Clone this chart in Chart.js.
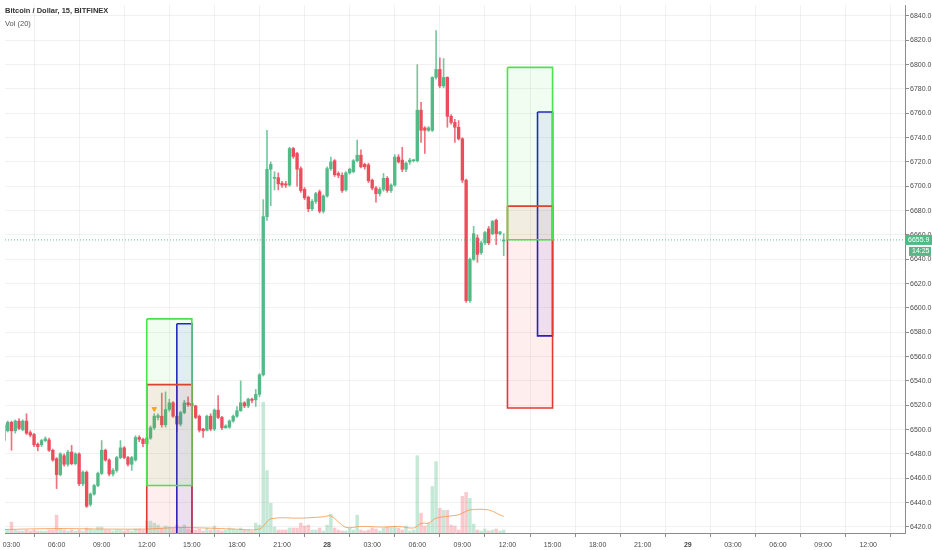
<!DOCTYPE html>
<html>
<head>
<meta charset="utf-8">
<script src="https://cdn.jsdelivr.net/npm/chart.js@4.4.1/dist/chart.umd.min.js"></script>
<style>
  html, body { margin: 0; padding: 0; background: #fff; }
  #wrap { position: relative; width: 932px; height: 550px; }
  .legend { position: absolute; left: 5px; font-family: "Liberation Sans", Arial, sans-serif; font-size: 7.5px; color: #333; white-space: nowrap; }
</style>
</head>
<body>
<div id="wrap">
  <canvas id="myChart" width="932" height="550"></canvas>
  <div class="legend" style="top:6px;font-weight:bold">Bitcoin / Dollar, 15, BITFINEX</div>
  <div class="legend" style="top:19px;color:#555">Vol (20)</div>
</div>
<script>
// 15 minute bars, index = quarter hours since 27th 00:00
var firstBar = 10;

var opens = [
  6491, 6499, 6506, 6499, 6507, 6500, 6507, 6497.5, 6496, 6488,
  6487.5, 6491, 6491.5, 6483, 6476, 6463, 6478.5, 6471.5, 6481.5, 6472,
  6480, 6455.5, 6465, 6438.5, 6447, 6454, 6464, 6483, 6475, 6463.5,
  6466.5, 6477, 6485, 6477, 6471.5, 6475, 6493.5, 6492, 6488.5, 6493,
  6501.5, 6510, 6511, 6504, 6516.5, 6522, 6511, 6504.5, 6514, 6522,
  6521.5, 6519.5, 6511, 6500.5, 6499.5, 6511, 6500.5, 6516, 6510, 6501.5,
  6502, 6507, 6511, 6515.5, 6522, 6519.5, 6525, 6524.5, 6529, 6545,
  6675, 6714, 6706.5, 6707, 6702.5, 6702, 6701, 6731, 6727, 6714.5,
  6697.5, 6691, 6681.5, 6687.5, 6695.5, 6679.5, 6692, 6714.5, 6721, 6710.5,
  6709, 6697, 6711, 6712, 6721, 6725.5, 6718, 6717.5, 6705, 6698.5,
  6694, 6697.5, 6706.5, 6696.5, 6701, 6724, 6721.5, 6714, 6720, 6721,
  6721, 6762.5, 6748, 6746, 6746, 6789.5, 6796, 6782.5, 6789.5, 6757.5,
  6752.5, 6748.5, 6739, 6705, 6606, 6640, 6657.5, 6645.5, 6653.5, 6665,
  6661, 6672, 6661, 6655
];
var highs = [
  6505, 6507, 6507, 6508, 6509, 6508, 6513, 6499, 6497, 6489,
  6492, 6494, 6493, 6484, 6477, 6481, 6480, 6483, 6487, 6481,
  6481, 6466, 6466, 6448, 6455, 6465, 6491, 6484, 6476, 6468,
  6478, 6491, 6486, 6478, 6478, 6495, 6495, 6493, 6494, 6503,
  6513, 6513, 6530, 6531, 6525, 6523, 6537, 6515, 6524, 6527,
  6523, 6520, 6512, 6501, 6512, 6513, 6517, 6528, 6511, 6504,
  6508, 6512, 6519, 6540, 6523, 6526, 6526, 6533, 6546, 6689,
  6746, 6720, 6712, 6711, 6704, 6704, 6732, 6732, 6728, 6716,
  6699, 6692, 6689, 6695, 6697, 6693, 6716, 6724, 6722, 6712,
  6711, 6712, 6715, 6722, 6738, 6730, 6719, 6719, 6706, 6700,
  6699, 6710.5, 6708, 6702, 6726, 6726, 6732, 6720, 6723, 6722,
  6800, 6769, 6749, 6749, 6790, 6828, 6805.5, 6805, 6790, 6759,
  6755, 6754, 6740, 6706, 6641, 6667, 6660, 6655, 6663, 6667,
  6672, 6673, 6663, 6661
];
var lows = [
  6489, 6498, 6483, 6497, 6500, 6499, 6496, 6494, 6486, 6482.5,
  6486, 6490, 6482, 6474, 6451.5, 6462, 6470, 6470, 6471, 6471,
  6454, 6454, 6436, 6437, 6446, 6453, 6463, 6474, 6462, 6462,
  6465, 6476, 6476, 6470, 6466.5, 6474, 6490, 6486, 6487, 6492,
  6500, 6508, 6502, 6502, 6515, 6510, 6498, 6503, 6513, 6519,
  6518, 6509, 6498, 6493.5, 6499, 6499, 6499, 6509, 6500, 6501,
  6501, 6506, 6510, 6515, 6518, 6518, 6522, 6519, 6527, 6544,
  6672, 6684, 6697, 6697, 6699, 6699, 6700, 6723, 6700, 6695,
  6689, 6679, 6680, 6686, 6678, 6678, 6691, 6713, 6708, 6707,
  6695, 6696, 6710, 6711, 6720, 6715, 6714, 6703, 6697, 6687,
  6692, 6696, 6695, 6695, 6700, 6719, 6712, 6712, 6718, 6720,
  6720, 6736, 6727, 6745, 6745, 6788, 6781, 6781, 6748.5, 6751,
  6736, 6738, 6703, 6604.5, 6604.5, 6639, 6637.5, 6644, 6652, 6652,
  6660, 6652, 6660, 6643
];
var closes = [
  6504, 6506, 6499, 6507, 6501, 6507, 6497, 6495.5, 6487.5, 6486,
  6491, 6492.5, 6483, 6475, 6463, 6480, 6471.5, 6481.5, 6472, 6480,
  6455.5, 6465, 6437, 6447, 6454, 6464, 6483, 6475, 6463.5, 6466.5,
  6477, 6485, 6477, 6471.5, 6477, 6493.5, 6492, 6488.5, 6493, 6501.5,
  6511, 6511.5, 6504, 6516.5, 6522, 6511, 6504.5, 6514, 6522, 6520.5,
  6519.5, 6510, 6499.5, 6499, 6511, 6500.5, 6516, 6510, 6501.5, 6503,
  6507, 6511, 6515.5, 6522, 6519.5, 6525, 6524, 6529, 6545, 6675,
  6714, 6718, 6707, 6702, 6701, 6701, 6731, 6724.5, 6714, 6696.5,
  6690.5, 6681.5, 6687.5, 6694, 6679.5, 6692, 6714.5, 6720, 6709.5, 6709,
  6696.5, 6711, 6714, 6721, 6725.5, 6716, 6716, 6704.5, 6698.5, 6694,
  6697.5, 6706.5, 6696.5, 6701, 6724, 6720, 6714, 6719, 6721.5, 6721.8,
  6762.5, 6746, 6746, 6748, 6789.5, 6796, 6782.5, 6789.5, 6757.5, 6752.5,
  6748.5, 6739, 6705, 6606, 6640, 6661, 6644, 6653.5, 6662, 6653.5,
  6671, 6661, 6662.5, 6655.9
];
var volumes = [
  4, 3, 11, 3, 2, 2, 3, 2, 3, 2,
  2, 2, 3, 3, 18, 4, 3, 2, 3, 2,
  3, 2, 5, 4, 3, 6, 6, 3, 3, 2,
  3, 3, 2, 3, 2, 4, 4, 3, 12, 12,
  10, 8, 5, 7, 6, 5, 8, 5, 8, 4,
  3, 3, 4, 2, 5, 3, 7, 3, 2, 3,
  5, 4, 3, 5, 3, 3, 2, 10, 8, 132,
  63, 30, 6, 3, 3, 3, 5, 5, 5, 10,
  7, 8, 3, 3, 5, 2, 8, 19, 5, 3,
  2, 2, 5, 3, 18, 3, 2, 3, 5, 4,
  2, 5, 6, 6, 7, 5, 3, 7, 2, 3,
  78, 20, 7, 10, 47, 72, 25, 23, 23, 8,
  7, 3, 37, 41, 35, 9, 3, 2, 4, 2,
  3, 4, 2, 3
];

// volume moving average
var maBars = [10, 24, 36, 48, 56, 64, 71, 78, 81, 89, 95, 97, 101, 105, 111, 115, 119, 121, 123, 125, 129, 131, 134, 139, 142, 143];
var maValues = [3.5, 4.5, 4, 4, 5.5, 5, 4, 4, 14.3, 15, 16.3, 17.3, 5.7, 6.7, 6, 6.7, 5, 9.7, 10, 15, 17.3, 18.3, 23.3, 23.3, 18.3, 16.7];

// boxes: [start bar, end bar, top price, bottom price]
var leftGreen = [48, 60, 6591, 6454];
var leftRed = [48, 60, 6537, 6405];
var leftBlue = [56, 60, 6587, 6405];
var rightGreen = [144, 156, 6797.7, 6656];
var rightRed = [144, 156, 6683.7, 6517.7];
var rightBlue = [152, 156, 6761, 6577];

var markerBar = 50;
var markerPrice = 6517;

var lastPrice = 6655.9;
var countdown = '14:25';

var xTicks = [12, 24, 36, 48, 60, 72, 84, 96, 108, 120, 132, 144, 156, 168, 180, 192, 204, 216, 228, 240];
var xLabels = ['03:00', '06:00', '09:00', '12:00', '15:00', '18:00', '21:00', '28', '03:00', '06:00',
               '09:00', '12:00', '15:00', '18:00', '21:00', '29', '03:00', '06:00', '09:00', '12:00'];
var dayTicks = [96, 192];
var yTicks = [6420, 6440, 6460, 6480, 6500, 6520, 6540, 6560, 6580, 6600, 6620,
              6640, 6660, 6680, 6700, 6720, 6740, 6760, 6780, 6800, 6820, 6840];

var upColor = '#53b987';
var downColor = '#eb4d5c';
var fontFamily = '"Liberation Sans", Arial, sans-serif';
var xMin = 10.27, xMax = 249.8;

var bars = opens.map(function (o, i) { return firstBar + i; });
var candleColors = opens.map(function (o, i) { return closes[i] >= o ? upColor : downColor; });
var wickColors = opens.map(function (o, i) { return closes[i] >= o ? 'rgba(83,185,135,0.8)' : 'rgba(235,77,92,0.8)'; });
var volColors = opens.map(function (o, i) { return closes[i] >= o ? 'rgba(83,185,135,0.33)' : 'rgba(235,77,92,0.3)'; });

function rect(b) {
  return [
    { x: b[0], y: b[2] }, { x: b[1], y: b[2] },
    { x: b[1], y: b[3] }, { x: b[0], y: b[3] }, { x: b[0], y: b[2] }
  ];
}

function boxSet(b, border, fill) {
  return {
    type: 'line', data: rect(b), borderColor: border, backgroundColor: fill,
    borderWidth: 1.6, fill: 'shape', pointRadius: 0, tension: 0, clip: 0, order: 1
  };
}

var priceTag = {
  id: 'priceTag',
  afterDraw: function (chart) {
    var c = chart.ctx;
    var area = chart.chartArea;
    var y = chart.scales.y.getPixelForValue(lastPrice);
    c.save();
    c.fillStyle = upColor;
    c.fillRect(area.right, y - 5, 27, 10);
    c.fillRect(area.right + 4, y + 7, 22, 9);
    c.fillStyle = '#fff';
    c.font = '7px ' + fontFamily;
    c.textBaseline = 'middle';
    c.textAlign = 'left';
    c.fillText(lastPrice.toFixed(1), area.right + 3, y);
    c.fillText(countdown, area.right + 7, y + 11.5);
    c.restore();
  }
};

var gridColor = 'rgba(0,0,0,0.055)';

new Chart(document.getElementById('myChart'), {
  type: 'bar',
  data: {
    datasets: [
      boxSet(leftGreen, '#4be34b', 'rgba(60,230,60,0.07)'),
      boxSet(leftRed, '#e23a2f', 'rgba(255,40,40,0.08)'),
      boxSet(leftBlue, '#1f1fc4', 'rgba(40,40,255,0.08)'),
      boxSet(rightGreen, '#4be34b', 'rgba(60,230,60,0.07)'),
      boxSet(rightRed, '#e23a2f', 'rgba(255,40,40,0.08)'),
      boxSet(rightBlue, '#1f1fc4', 'rgba(40,40,255,0.08)'),
      {
        type: 'line', data: [{ x: xMin, y: lastPrice }, { x: xMax, y: lastPrice }],
        borderColor: 'rgba(83,185,135,0.9)', borderWidth: 1, borderDash: [1, 2],
        pointRadius: 0, fill: false, order: 2
      },
      {
        type: 'line', data: [{ x: markerBar, y: markerPrice }], showLine: false,
        pointStyle: 'triangle', rotation: 180, pointRadius: 2.6,
        backgroundColor: '#f5a623', borderColor: '#f5a623', order: 0
      },
      {
        label: 'bodies',
        data: bars.map(function (t, i) { return { x: t, y: [opens[i], closes[i]] }; }),
        backgroundColor: candleColors, barThickness: 2.7, minBarLength: 1,
        grouped: false, order: 4
      },
      {
        label: 'wicks',
        data: bars.map(function (t, i) { return { x: t, y: [lows[i], highs[i]] }; }),
        backgroundColor: wickColors, barThickness: 1, grouped: false, order: 5
      },
      {
        label: 'volume', yAxisID: 'yv',
        data: bars.map(function (t, i) { return { x: t, y: volumes[i] }; }),
        backgroundColor: volColors, barThickness: 2.8, grouped: false, order: 10
      },
      {
        type: 'line', yAxisID: 'yv',
        data: maBars.map(function (t, i) { return { x: t, y: maValues[i] }; }),
        borderColor: 'rgba(247,150,70,0.8)', borderWidth: 1, pointRadius: 0,
        tension: 0.3, fill: false, order: 9
      }
    ]
  },
  options: {
    responsive: false,
    animation: false,
    layout: { padding: 0 },
    plugins: {
      legend: { display: false },
      tooltip: { enabled: false },
      title: { display: false }
    },
    scales: {
      x: {
        type: 'linear', min: xMin, max: xMax, offset: false,
        grid: { color: gridColor, tickLength: 4, tickColor: '#8c8c8c' },
        border: { color: '#8c8c8c' },
        ticks: {
          color: '#4a4a4a', padding: 4, maxRotation: 0, autoSkip: false,
          font: function (ctx) {
            var bold = ctx.tick && dayTicks.indexOf(ctx.tick.value) >= 0;
            return { size: 7, family: fontFamily, weight: bold ? 'bold' : 'normal' };
          },
          callback: function (v) { return xLabels[xTicks.indexOf(v)]; }
        },
        afterBuildTicks: function (s) { s.ticks = xTicks.map(function (v) { return { value: v }; }); },
        afterFit: function (s) { s.height = 17; s.paddingLeft = 0; s.paddingRight = 0; }
      },
      y: {
        position: 'right', min: 6415, max: 6849,
        grid: { color: gridColor, tickLength: 4, tickColor: '#8c8c8c' },
        border: { color: '#8c8c8c' },
        ticks: {
          color: '#4a4a4a', padding: 1,
          font: { size: 7, family: fontFamily },
          callback: function (v) { return v.toFixed(1); }
        },
        afterBuildTicks: function (s) { s.ticks = yTicks.map(function (v) { return { value: v }; }); },
        afterFit: function (s) { s.width = 27; s.paddingTop = 0; s.paddingBottom = 0; }
      },
      yv: { display: false, min: 0, max: 533 }
    }
  },
  plugins: [priceTag]
});
</script>
</body>
</html>
